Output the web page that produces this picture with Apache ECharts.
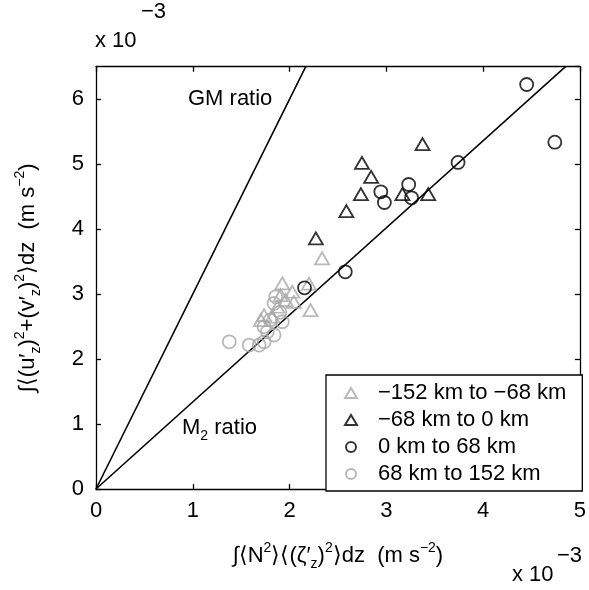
<!DOCTYPE html>
<html><head><meta charset="utf-8">
<script src="https://cdn.jsdelivr.net/npm/echarts@6/dist/echarts.min.js"></script>
<style>html,body{margin:0;padding:0;background:#fff}#c{width:589px;height:590px}</style>
</head><body><div id="c"></div>
<script>
// ---- data (units of 1e-3 m s^-2) ----
const xTickValues = [0, 1, 2, 3, 4, 5];
const yTickValues = [0, 1, 2, 3, 4, 5, 6];
const seriesNames = ['\u2212152 km to \u221268 km', '\u221268 km to 0 km', '0 km to 68 km', '68 km to 152 km'];
const greyTriangles = [[2.336,3.549],[1.925,3.164],[2.028,3.036],[2.20,3.16],[1.908,2.985],[1.96,2.908],[2.045,2.88],[2.217,2.754],[1.874,2.805],[1.737,2.677],[1.822,2.651],[1.703,2.6]];
const blackTriangles = [[2.272,3.857],[2.748,5.02],[2.843,4.805],[2.737,4.538],[2.587,4.277],[3.374,5.308],[3.166,4.538],[3.433,4.538]];
const blackCircles = [[4.741,5.338],[4.45,6.226],[3.741,5.026],[2.943,4.574],[2.98,4.41],[3.231,4.687],[3.261,4.482],[2.576,3.343],[2.155,3.097]];
const greyCircles = [[1.857,2.958],[1.84,2.857],[1.90,2.72],[1.925,2.574],[1.80,2.6],[1.737,2.497],[1.771,2.42],[1.84,2.37],[1.377,2.266],[1.583,2.215],[1.686,2.215],[1.737,2.266]];
const gmRatio = 3.0;
const m2Ratio = 1.34;
const xMax = 5, yMax = 6.5;

const FONT = '"Liberation Sans", Arial, Helvetica, sans-serif';
const FS = 22;
const GREY = '#a8a8a8';

const chart = echarts.init(document.getElementById('c'), null, {renderer: 'canvas'});

function scatter(name, data, symbol, color) {
  return {
    name: name, type: 'scatter', data: data, symbol: symbol, symbolSize: symbol === 'triangle' ? [14, 12] : 13,
    itemStyle: {color: 'rgba(0,0,0,0)', borderColor: color, borderWidth: 1.8},
    emphasis: {disabled: true}, z: 3
  };
}
function ratioLine(r) {
  return {type: 'line', data: [[0, 0], [xMax, r * xMax]], showSymbol: false, clip: true,
    lineStyle: {color: '#000', width: 1.6}, silent: true, z: 2};
}

const rich = {
  n: {fontSize: FS, fontFamily: FONT, color: '#000', lineHeight: 30},
  sup: {fontSize: 14, fontFamily: FONT, color: '#000', verticalAlign: 'top', lineHeight: 30},
  sub: {fontSize: 14, fontFamily: FONT, color: '#000', verticalAlign: 'bottom', lineHeight: 30},
  pad: {padding: [0, 0, 0, 16], fontSize: FS, fontFamily: FONT, color: '#000'}
};
const xName = '{n|\u222B\u27E8N}{sup|2}{n|\u27E9\u27E8(\u03B6\u2032}{sub|z}{n|)}{sup|2}{n|\u27E9dz  (m s}{sup|\u22122}{n|)}';
const yName = '{n|\u222B\u27E8(u\u2032}{sub|z}{n|)}{sup|2}{n|+(v\u2032}{sub|z}{n|)}{sup|2}{n|\u27E9dz  (m s}{sup|\u22122}{n|)}';

const axisCommon = {
  type: 'value',
  axisLine: {show: true, onZero: false, lineStyle: {color: '#000', width: 1.3}},
  axisTick: {show: true, inside: true, length: 5, lineStyle: {color: '#000', width: 1.3}},
  splitLine: {show: false}
};

const option = {
  animation: false,
  backgroundColor: '#fff',
  grid: {left: 96, right: 6.5, top: 66.7, bottom: 101, containLabel: false},
  xAxis: [
    Object.assign({}, axisCommon, {min: 0, max: xMax, interval: 1, position: 'bottom',
      axisLabel: {color: '#000', fontSize: FS, fontFamily: FONT, margin: 11, formatter: v => xTickValues.indexOf(v) >= 0 ? String(v) : ''},
      name: xName, nameLocation: 'middle', nameGap: 52, nameTextStyle: {rich: rich}}),
    Object.assign({}, axisCommon, {min: 0, max: xMax, interval: 1, position: 'top', axisLabel: {show: false}})
  ],
  yAxis: [
    Object.assign({}, axisCommon, {min: 0, max: yMax, interval: 1, position: 'left',
      axisLabel: {color: '#000', fontSize: FS, fontFamily: FONT, margin: 12, showMaxLabel: false,
        formatter: v => yTickValues.indexOf(v) >= 0 ? String(v) : ''},
      name: yName, nameLocation: 'middle', nameGap: 53, nameRotate: 90, nameTextStyle: {rich: rich}}),
    Object.assign({}, axisCommon, {min: 0, max: yMax, interval: 1, position: 'right', axisLabel: {show: false}})
  ],
  legend: {
    show: true, orient: 'vertical', left: 326, top: 375,
    data: seriesNames,
    backgroundColor: '#fff', borderColor: '#000', borderWidth: 1.3, borderRadius: 0,
    padding: [7, 16, 6, 18], itemGap: 5, itemWidth: 12, itemHeight: 10,
    selectedMode: false,
    textStyle: {color: '#000', fontSize: FS, fontFamily: FONT, rich: rich},
    formatter: name => '{pad|' + name + '}'
  },
  series: [
    ratioLine(gmRatio),
    ratioLine(m2Ratio),
    scatter(seriesNames[0], greyTriangles, 'triangle', GREY),
    scatter(seriesNames[1], blackTriangles, 'triangle', '#000'),
    scatter(seriesNames[2], blackCircles, 'circle', '#000'),
    scatter(seriesNames[3], greyCircles, 'circle', GREY)
  ],
  graphic: [
    {type: 'text', left: 95, top: 30, style: {text: 'x 10', font: FS + 'px ' + FONT, fill: '#000'}},
    {type: 'text', left: 141, top: 1, style: {text: '\u22123', font: FS + 'px ' + FONT, fill: '#000'}},
    {type: 'text', left: 512, top: 564, style: {text: 'x 10', font: FS + 'px ' + FONT, fill: '#000'}},
    {type: 'text', left: 557, top: 545, style: {text: '\u22123', font: FS + 'px ' + FONT, fill: '#000'}},
    {type: 'text', left: 188, top: 88, style: {text: 'GM ratio', font: FS + 'px ' + FONT, fill: '#000'}},
    {type: 'text', left: 182, top: 417, style: {text: '{n|M}{sub|2}{n| ratio}', rich: rich}}
  ]
};
chart.setOption(option);
</script></body></html>
